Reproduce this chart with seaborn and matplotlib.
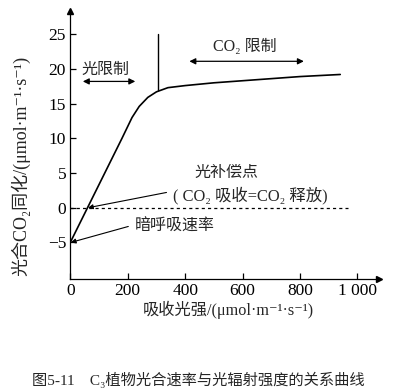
import numpy as np
import pandas as pd
import matplotlib
matplotlib.use("Agg")
import matplotlib.pyplot as plt
import seaborn as sns

# light response curve of a C3 plant
light = [0, 60, 120, 180, 215, 240, 270, 300, 340, 400, 500, 600, 700, 800, 940]
rate = [-5, 0, 5, 10, 13, 14.6, 15.9, 16.7, 17.3, 17.6, 18.0, 18.3, 18.6, 18.9, 19.2]

x_ticks = [0, 200, 400, 600, 800, 1000]
x_ticklabels = ["0", "200", "400", "600", "800", "1 000"]
y_ticks = [-5, 0, 5, 10, 15, 20, 25]
y_ticklabels = ["\u22125", "0", "5", "10", "15", "20", "25"]

sns.set_style("ticks")
plt.rcParams["font.family"] = ["Liberation Serif", "Noto Sans CJK SC", "DejaVu Sans"]
plt.rcParams["axes.unicode_minus"] = True

df = pd.DataFrame({"light": light, "rate": rate})

fig = plt.figure(figsize=(4.07, 3.92), dpi=100)
ax = fig.add_axes([0.1727, 0.2895, 0.7585, 0.6816])

sns.lineplot(data=df, x="light", y="rate", sort=False, estimator=None,
             color="black", lw=1.2, ax=ax)

ax.set_xlim(0, 1075)
ax.set_ylim(-10.2, 28.3)

# compensation line and limit marker
ax.plot([0, 968], [0, 0], color="black", lw=0.9, ls=(0, (2.5, 2.5)))
ax.plot([306, 306], [16.9, 25], color="black", lw=1.0)

arrow = dict(arrowstyle="<|-|>", color="black", lw=0.9, mutation_scale=9)
ax.annotate("", xy=(34, 18.2), xytext=(236, 18.2), arrowprops=arrow)
ax.annotate("", xy=(405, 21.1), xytext=(823, 21.1), arrowprops=arrow)
ax.text(121, 19.9, "光限制", ha="center", va="center", fontsize=11.5)
ax.text(608, 23.1, "CO₂ 限制", ha="center", va="center", fontsize=11.5)

line = dict(arrowstyle="-|>", color="black", lw=0.8, mutation_scale=7, shrinkA=0, shrinkB=0)
ax.annotate("", xy=(62, 0), xytext=(335, 2.2), arrowprops=line)
ax.text(544, 5.0, "光补偿点", ha="center", va="center", fontsize=11.5)
ax.text(628, 1.8, "( CO₂ 吸收=CO₂ 释放)", ha="center", va="center", fontsize=11.8)

ax.annotate("", xy=(2, -5), xytext=(202, -2.7), arrowprops=line)
ax.text(225, -2.7, "暗呼吸速率", ha="left", va="center", fontsize=11.5)

ax.set_xticks(x_ticks)
ax.set_xticklabels(x_ticklabels)
ax.set_yticks(y_ticks)
ax.set_yticklabels(y_ticklabels)
ax.tick_params(direction="in", length=4, width=0.9, labelsize=12.5, pad=3, colors="black")

sns.despine(ax=ax)
for side in ["left", "bottom"]:
    ax.spines[side].set_linewidth(0.9)
    ax.spines[side].set_color("black")
ax.plot(1, 0, ">", color="black", ms=5, transform=ax.transAxes, clip_on=False)
ax.plot(0, 1, "^", color="black", ms=5, transform=ax.transAxes, clip_on=False)

ax.set_xlabel("吸收光强/(μmol·m⁻¹·s⁻¹)", fontsize=11.7)
ax.set_ylabel("光合CO₂同化/(μmol·m⁻¹·s⁻¹)", fontsize=13)
ax.xaxis.set_label_coords(0.511, -0.085)
ax.yaxis.set_label_coords(-0.13, 0.42)

fig.text(198 / 407, 1 - 380 / 392, "图5-11　C₃植物光合速率与光辐射强度的关系曲线",
         ha="center", va="center", fontsize=11)

fig.savefig("out.png", dpi=100, facecolor="white")
